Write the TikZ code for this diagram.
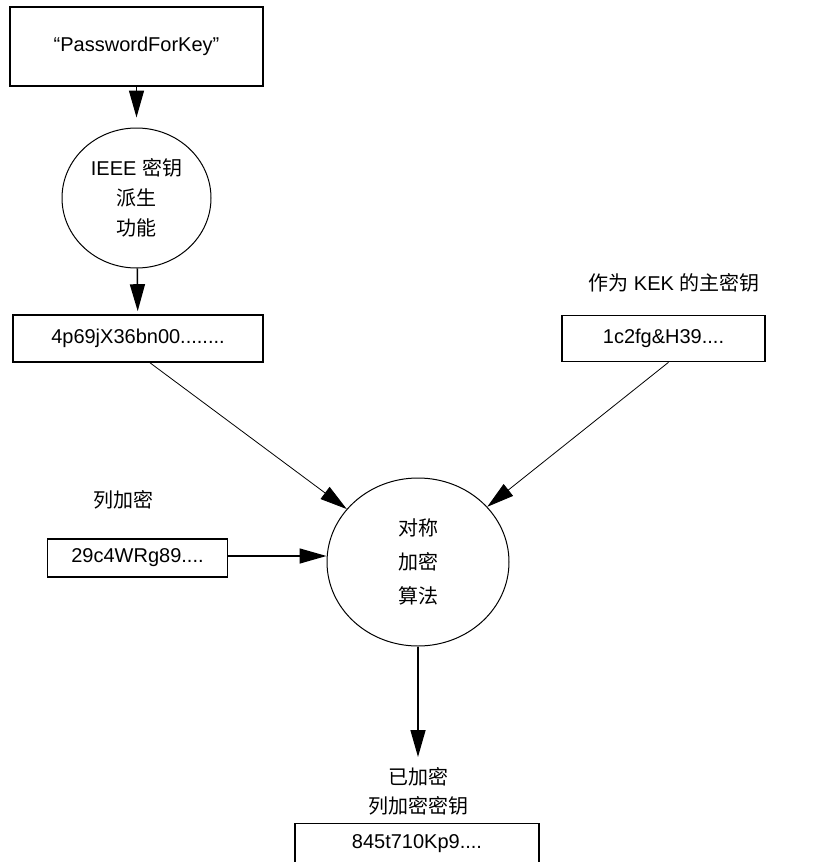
\documentclass[tikz,border=0pt]{standalone}
\usepackage{fontspec}
\setmainfont{Liberation Sans}
\newfontfamily\cjk{Noto Sans CJK SC}
\usetikzlibrary{shapes.geometric,arrows.meta}
\begin{document}
\begin{tikzpicture}[x=1pt,y=-1pt,
  every node/.style={font=\fontsize{20}{30}\selectfont, align=center, inner sep=0pt},
  box/.style={draw, rectangle, line width=1.6pt},
  oval/.style={draw, ellipse, line width=1pt},
  flow/.style={-{Triangle[length=27pt,width=15pt]}},
  thick flow/.style={flow, line width=1.5pt},
  thin flow/.style={flow, line width=0.8pt}
  ]
\useasboundingbox (0,0) rectangle (813,862);
\clip (0,0) rectangle (813,862);
\fill[white] (0,0) rectangle (813,862);

\node[box, minimum width=253pt, minimum height=79pt] (pw) at (136.5,46.5) {“PasswordForKey”};
\node[oval, minimum width=149pt, minimum height=140pt] (kdf) at (136.5,198)
  {IEEE {\cjk 密钥}\\{\cjk 派生}\\{\cjk 功能}};
\node[box, minimum width=250pt, minimum height=47pt] (k1) at (138,338.5) {4p69jX36bn00........};

\node (keklbl) at (674,283) {{\cjk 作为} KEK {\cjk 的主密钥}};
\node[box, minimum width=203pt, minimum height=46pt] (kek) at (663.5,338.5) {1c2fg\&H39....};

\node (ceklbl) at (123,500) {\cjk 列加密};
\node[box, minimum width=180pt, minimum height=38pt] (cek) at (137.5,558) {29c4WRg89....};

\node[oval, minimum width=182pt, minimum height=168pt, font=\fontsize{20}{34}\selectfont\cjk] (alg) at (418,562)
  {对称\\加密\\算法};

\coordinate (tip) at (418,757);
\node[font=\fontsize{20}{29}\selectfont\cjk] (outlbl) at (418,791) {已加密\\列加密密钥};
\node[box, minimum width=244pt, minimum height=40pt] (out) at (417,843.5) {845t710Kp9....};

\draw[thick flow, shorten >=10pt] (pw) -- (kdf);
\draw[thick flow, shorten >=3pt] (kdf) -- (k1);
\draw[thin flow] ([xshift=12pt]k1.south) -- (alg);
\draw[thin flow] ([xshift=5pt]kek.south) -- (alg);
\draw[thick flow] ([yshift=2pt]cek.east) -- ([yshift=2pt]cek.east -| alg.west);
\draw[thick flow] (alg.south) -- (tip);
\end{tikzpicture}
\end{document}
